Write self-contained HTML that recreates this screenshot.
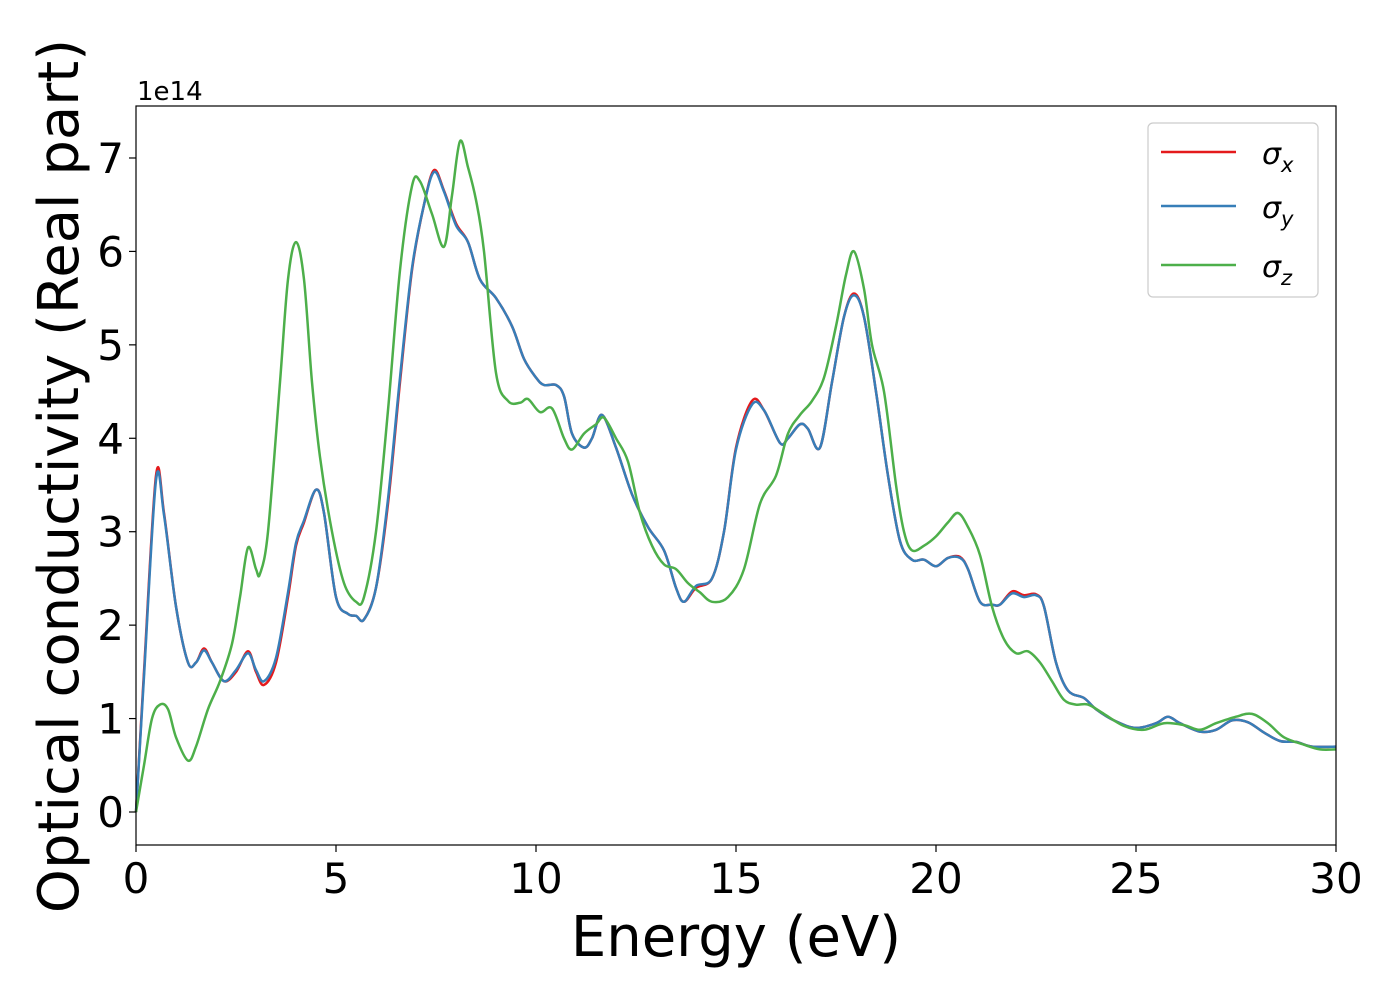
<!DOCTYPE html>
<html><head><meta charset="utf-8"><style>
html,body{margin:0;padding:0;background:#fff}
svg{display:block;font-family:"DejaVu Sans","Liberation Sans",sans-serif}
</style></head><body>
<svg id="chart" width="1400" height="1000" viewBox="0 0 1400 1000" xmlns="http://www.w3.org/2000/svg">
<rect x="136" y="106" width="1200" height="739" fill="#fff"/>
<g id="series"></g>
<rect x="136" y="106" width="1200" height="739" fill="none" stroke="#000" stroke-width="1.2"/>
<g id="xticks"></g>
<g id="yticks"></g>
<text x="137" y="100" font-size="26">1e14</text>
<text x="736" y="956" font-size="56" text-anchor="middle">Energy (eV)</text>
<text transform="translate(78,476) rotate(-90)" font-size="56" text-anchor="middle">Optical conductivity (Real part)</text>
<g>
<rect x="1148" y="123" width="170" height="174" rx="5" fill="#fff" fill-opacity="0.8" stroke="#ccc" stroke-width="1.2"/>
<g><line x1="1161" y1="152" x2="1236" y2="152" stroke="#e41a1c" stroke-width="2.5"/><text x="1262" y="164" font-size="30" font-style="italic">σ<tspan font-size="21" dy="8">x</tspan></text></g>
<g><line x1="1161" y1="206" x2="1236" y2="206" stroke="#377eb8" stroke-width="2.5"/><text x="1262" y="218" font-size="30" font-style="italic">σ<tspan font-size="21" dy="8">y</tspan></text></g>
<g><line x1="1161" y1="265" x2="1236" y2="265" stroke="#4daf4a" stroke-width="2.5"/><text x="1262" y="277" font-size="30" font-style="italic">σ<tspan font-size="21" dy="8">z</tspan></text></g>
</g>
</svg>
<script>
const xTicks=[0,5,10,15,20,25,30];
const yTicks=[0,1,2,3,4,5,6,7];
const energyX=[0,0.2,0.5,0.7,1.0,1.3,1.5,1.7,1.9,2.2,2.5,2.8,3.0,3.2,3.5,3.8,4.0,4.2,4.5,4.7,5.0,5.3,5.5,5.7,6.0,6.3,6.6,6.9,7.2,7.45,7.7,8.0,8.3,8.6,9.0,9.4,9.7,10.0,10.2,10.5,10.7,10.9,11.2,11.4,11.65,12.0,12.4,12.8,13.2,13.5,13.7,14.0,14.4,14.7,15.0,15.4,15.7,16.1,16.3,16.6,16.8,17.1,17.4,17.7,17.95,18.2,18.5,18.8,19.1,19.4,19.7,20.0,20.3,20.6,20.8,21.1,21.4,21.6,21.9,22.2,22.5,22.7,23.0,23.3,23.7,24.0,24.5,25.0,25.5,25.8,26.1,26.6,27.0,27.4,27.8,28.2,28.6,29.0,29.4,30];
const sigmaX=[0,1.5,3.6,3.2,2.2,1.6,1.6,1.75,1.6,1.4,1.5,1.72,1.5,1.36,1.6,2.3,2.85,3.1,3.45,3.2,2.3,2.12,2.1,2.06,2.4,3.3,4.6,5.8,6.5,6.87,6.65,6.3,6.1,5.7,5.5,5.2,4.85,4.65,4.57,4.57,4.45,4.05,3.9,4.0,4.25,3.9,3.4,3.05,2.8,2.4,2.25,2.4,2.5,3.0,3.9,4.4,4.3,3.95,4.0,4.15,4.1,3.9,4.6,5.3,5.55,5.3,4.5,3.6,2.9,2.7,2.7,2.63,2.72,2.73,2.6,2.25,2.22,2.22,2.36,2.32,2.33,2.2,1.6,1.3,1.22,1.1,0.97,0.9,0.95,1.02,0.95,0.86,0.88,0.98,0.96,0.85,0.76,0.75,0.7,0.7];
const sigmaY=[0,1.45,3.55,3.18,2.2,1.6,1.6,1.73,1.6,1.4,1.52,1.7,1.52,1.4,1.65,2.35,2.88,3.12,3.45,3.2,2.3,2.12,2.1,2.06,2.4,3.35,4.65,5.82,6.5,6.85,6.64,6.28,6.1,5.7,5.5,5.2,4.85,4.65,4.57,4.57,4.45,4.05,3.9,4.0,4.25,3.9,3.4,3.05,2.8,2.4,2.25,2.42,2.5,3.0,3.88,4.36,4.3,3.95,4.0,4.15,4.1,3.9,4.6,5.3,5.53,5.3,4.5,3.6,2.9,2.7,2.7,2.63,2.72,2.72,2.6,2.25,2.22,2.22,2.34,2.3,2.32,2.2,1.6,1.3,1.22,1.1,0.97,0.9,0.95,1.02,0.95,0.86,0.88,0.98,0.96,0.85,0.76,0.75,0.7,0.7];
const energyZ=[0,0.2,0.4,0.6,0.8,1.0,1.3,1.5,1.8,2.1,2.4,2.6,2.8,3.0,3.1,3.3,3.6,3.8,4.0,4.2,4.4,4.6,4.9,5.2,5.5,5.7,6.0,6.3,6.6,6.9,7.1,7.4,7.7,7.9,8.1,8.3,8.5,8.7,9.0,9.3,9.6,9.8,10.1,10.4,10.7,10.9,11.2,11.5,11.7,12.0,12.3,12.6,12.9,13.2,13.5,13.8,14.1,14.4,14.8,15.2,15.6,16.0,16.3,16.6,16.9,17.2,17.5,17.75,17.95,18.2,18.4,18.7,19.0,19.2,19.4,19.7,20.0,20.3,20.55,20.8,21.1,21.4,21.7,22.0,22.3,22.6,22.9,23.2,23.5,23.8,24.2,24.7,25.2,25.7,26.2,26.6,27.0,27.5,27.9,28.3,28.7,29.2,29.6,30];
const sigmaZ=[0,0.5,1.0,1.15,1.1,0.8,0.55,0.7,1.1,1.4,1.8,2.3,2.83,2.6,2.55,3.0,4.6,5.7,6.1,5.7,4.6,3.8,3.0,2.45,2.25,2.3,3.0,4.3,5.8,6.7,6.75,6.4,6.05,6.6,7.18,6.9,6.55,6.0,4.7,4.4,4.38,4.42,4.28,4.32,4.0,3.88,4.05,4.15,4.22,4.0,3.75,3.2,2.85,2.65,2.6,2.45,2.35,2.25,2.3,2.6,3.3,3.6,4.05,4.25,4.4,4.65,5.2,5.75,6.0,5.6,5.0,4.5,3.5,3.0,2.8,2.85,2.95,3.1,3.2,3.05,2.75,2.2,1.85,1.7,1.72,1.6,1.4,1.2,1.15,1.15,1.05,0.92,0.88,0.95,0.93,0.88,0.95,1.02,1.05,0.95,0.8,0.72,0.67,0.67];

const NS="http://www.w3.org/2000/svg";
const X0=136,X1=1336,Y0=812,YPER=93.43;
function xs(v){return X0+(v/30)*(X1-X0);}
function ys(v){return Y0-v*YPER;}
function mk(t,a,p){const e=document.createElementNS(NS,t);for(const k in a)e.setAttribute(k,a[k]);p.appendChild(e);return e;}
function pathFor(ex,sy){
  const p=ex.map((e,i)=>[xs(e),ys(sy[i])]);
  let d="M"+p[0][0].toFixed(1)+","+p[0][1].toFixed(1);
  for(let i=0;i<p.length-1;i++){
    const a=p[Math.max(0,i-1)],b=p[i],c=p[i+1],n=p[Math.min(p.length-1,i+2)];
    const c1=[b[0]+(c[0]-a[0])/6,b[1]+(c[1]-a[1])/6],c2=[c[0]-(n[0]-b[0])/6,c[1]-(n[1]-b[1])/6];
    d+=" C"+c1[0].toFixed(1)+","+c1[1].toFixed(1)+" "+c2[0].toFixed(1)+","+c2[1].toFixed(1)+" "+c[0].toFixed(1)+","+c[1].toFixed(1);
  }
  return d;
}
const sg=document.getElementById('series');
const defs=[[energyX,sigmaX,'#e41a1c','sigma-x-line'],[energyX,sigmaY,'#377eb8','sigma-y-line'],[energyZ,sigmaZ,'#4daf4a','sigma-z-line']];
defs.forEach(s=>{
  const el=mk('path',{d:pathFor(s[0],s[1]),fill:'none',stroke:s[2],'stroke-width':2.5,'stroke-linejoin':'round'},sg);
  
  
});
const xg=document.getElementById('xticks');
xTicks.forEach(t=>{
  const x=xs(t);
  const l=mk('line',{x1:x,y1:845,x2:x,y2:852,stroke:'#000','stroke-width':1.2},xg);
  
  
  const tx=mk('text',{x:x,y:893,'font-size':42,'text-anchor':'middle'},xg);
  tx.textContent=t;
  
  
});
const yg=document.getElementById('yticks');
yTicks.forEach(t=>{
  const y=ys(t);
  const l=mk('line',{x1:129,y1:y,x2:136,y2:y,stroke:'#000','stroke-width':1.2},yg);
  
  
  const tx=mk('text',{x:124,y:y+15,'font-size':42,'text-anchor':'end'},yg);
  tx.textContent=t;
  
  
});
</script>
</body></html>
